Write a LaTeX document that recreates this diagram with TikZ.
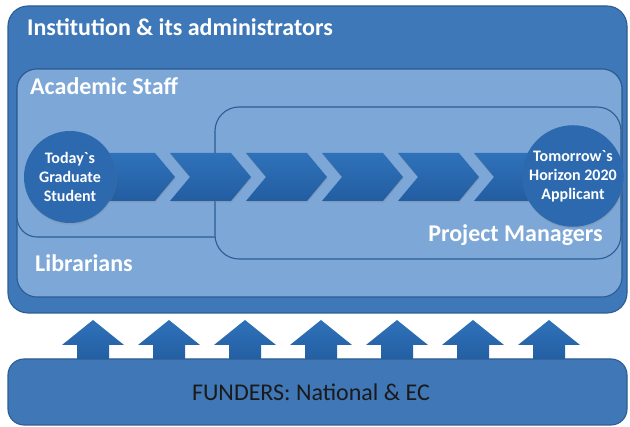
\documentclass[tikz,border=0pt]{standalone}
\usepackage{fontspec}
\setmainfont{Carlito}
\newfontfamily\rawfont{Carlito}
\usetikzlibrary{shadows}
\definecolor{outerblue}{HTML}{3F78B8}
\definecolor{lightblue}{HTML}{7CA7D7}
\definecolor{edgeblue}{HTML}{2C5D93}
\definecolor{chevtop}{HTML}{2F72BA}
\definecolor{chevbot}{HTML}{235DA1}
\definecolor{circblue}{HTML}{2C69AF}
\definecolor{fundblue}{HTML}{3F77B7}
\definecolor{textdark}{HTML}{1A1A1A}
\begin{document}
\begin{tikzpicture}[x=1pt,y=-1pt,
  panel/.style={draw=edgeblue, line width=1.1pt, rounded corners=20pt, inner sep=0pt},
  chev/.style={top color=chevtop, bottom color=chevbot, draw=none,
    drop shadow={shadow xshift=0.5pt, shadow yshift=-1.5pt, opacity=0.3}},
  uparrow/.style={top color=chevtop, bottom color=chevbot, draw=none},
  disc/.style={circle, fill=circblue, minimum size=92pt, inner sep=0pt,
    drop shadow={shadow xshift=0.5pt, shadow yshift=-1.5pt, opacity=0.3},
    text=white, align=center, font=\rawfont\bfseries\fontsize{16}{19}\selectfont},
  lbl/.style={font=\bfseries\fontsize{24}{28}\selectfont, text=white, inner sep=0pt}]
\useasboundingbox (0,0) rectangle (630,427);

% outer institution box
\node[panel, fill=outerblue, minimum width=619pt, minimum height=307pt] (inst) at (317.5,159.5) {};
% librarians (light) box
\node[panel, fill=lightblue, minimum width=605pt, minimum height=228pt] (lib) at (319.5,183) {};
% academic staff box
\node[panel, fill=lightblue, minimum width=605pt, minimum height=168pt] (acad) at (319.5,153) {};
% project managers box
\node[panel, fill=lightblue, rounded corners=24pt, minimum width=406pt, minimum height=152pt] (pm) at (418,183) {};

% chevrons
\foreach \x in {94,170,246,322,398,474}{
  \path[chev] (\x,153) -- (\x+61,153) -- (\x+81,177) -- (\x+61,201) -- (\x,201) -- (\x+20,177) -- cycle;
}

% circles
\node[disc] (today) at (70,177) {Today`s\\Graduate\\Student};
\node[disc] (tomorrow) at (573,176) {Tomorrow`s\\Horizon 2020\\Applicant};

% labels
\node[lbl, anchor=base west] (instlbl) at (27,36) {Institution \& its administrators};
\node[lbl, anchor=base west] (acadlbl) at (30,95) {Academic Staff};
\node[lbl, anchor=base west] (liblbl) at (35,272) {Librarians};
\node[lbl, anchor=base east] (pmlbl) at (603,242) {Project Managers};

% up arrows
\foreach \c in {93,169,245,321,397,473,549}{
  \path[uparrow] (\c,320) -- (\c+31,345) -- (\c+16,345) -- (\c+16,362) -- (\c-16,362) -- (\c-16,345) -- (\c-31,345) -- cycle;
}

% funders box
\node[panel, fill=fundblue, rounded corners=16pt, minimum width=619pt, minimum height=66pt] (fund) at (317.5,392) {};
\node[font=\fontsize{24}{28}\selectfont, text=textdark, anchor=base, inner sep=0pt] (fundlbl) at (311,401) {FUNDERS: National \& EC};
\end{tikzpicture}
\end{document}
